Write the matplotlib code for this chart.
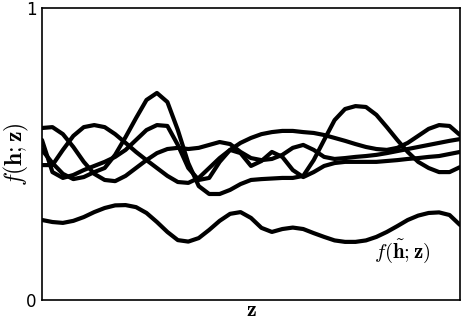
import numpy as np
import matplotlib
matplotlib.use("Agg")
import matplotlib.pyplot as plt

plt.rcParams['mathtext.fontset'] = 'cm'

# sample positions along z (0..1)
z = np.linspace(0, 1, 41)

f1 = [.514, .469, .432, .414, .421, .438, .452, .497, .558, .623,
      .685, .709, .678, .582, .469, .390, .363, .363, .377, .397,
      .411, .414, .416, .418, .418, .425, .479, .548, .616, .654,
      .664, .661, .634, .592, .548, .507, .473, .452, .438, .438, .455]
f2 = [.462, .462, .514, .562, .592, .599, .592, .568, .538, .507,
      .479, .452, .425, .404, .401, .418, .452, .486, .514, .538,
      .555, .568, .575, .579, .579, .575, .572, .565, .555, .545,
      .534, .524, .517, .514, .521, .538, .562, .586, .599, .596, .565]
f3 = [.548, .438, .418, .428, .445, .459, .473, .490, .514, .548,
      .582, .599, .596, .531, .452, .411, .418, .473, .514, .503,
      .459, .476, .507, .490, .445, .421, .438, .459, .469, .473,
      .473, .473, .473, .476, .479, .483, .486, .490, .493, .500, .507]
f4 = [.589, .592, .568, .524, .473, .432, .411, .407, .425, .452,
      .479, .503, .517, .521, .517, .521, .531, .541, .534, .507,
      .486, .479, .483, .497, .521, .531, .514, .490, .483, .486,
      .490, .493, .497, .503, .510, .517, .524, .531, .538, .545, .551]
# the tilde-h function (lower curve)
f_tilde = [.274, .267, .264, .271, .284, .301, .315, .324, .325, .318,
           .298, .267, .233, .205, .200, .212, .240, .271, .295, .301,
           .281, .247, .233, .243, .248, .243, .229, .216, .204, .199,
           .199, .204, .216, .233, .253, .274, .289, .298, .300, .291, .257]

fig = plt.figure(figsize=(4.66, 3.26), dpi=100)
ax = fig.add_axes([0.0901, 0.0798, 0.897, 0.8957])

for f in [f1, f2, f3, f4, f_tilde]:
    ax.plot(z, f, color='black', linewidth=3.0, solid_capstyle='round',
            solid_joinstyle='round')

ax.text(0.795, 0.145, r'$f(\tilde{\mathbf{h}};\mathbf{z})$', fontsize=15)

ax.set_xlim(0, 1)
ax.set_ylim(0, 1)
ax.set_xticks([])
ax.set_yticks([0, 1])
ax.set_yticklabels(['0', '1'], fontsize=12)
ax.tick_params(axis='y', length=0, pad=4)
for s in ax.spines.values():
    s.set_linewidth(1.2)

ax.set_xlabel(r'$\mathbf{z}$', fontsize=16, labelpad=0)
ax.set_ylabel(r'$f(\mathbf{h};\mathbf{z})$', fontsize=17, labelpad=-4)

fig.savefig('out.png', dpi=100)
